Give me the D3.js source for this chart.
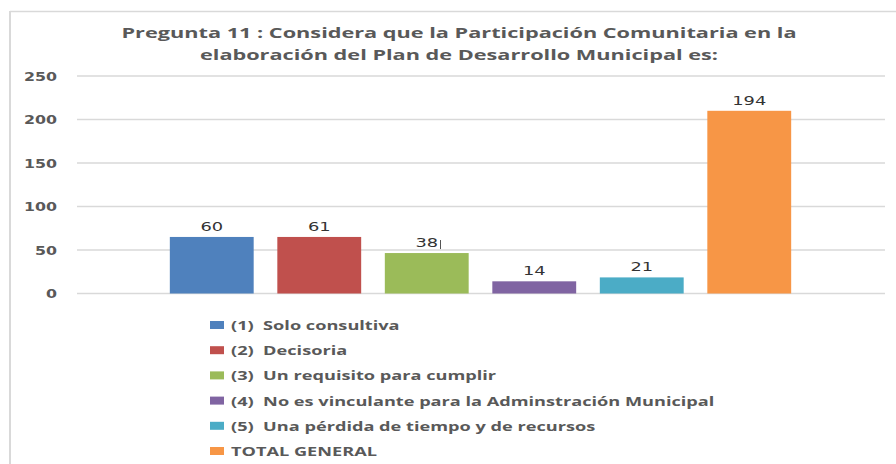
<!DOCTYPE html>
<html>
<head>
<meta charset="utf-8">
<script src="https://cdn.jsdelivr.net/npm/d3@7"></script>
<style>
  html, body { margin: 0; padding: 0; background: #fff; }
  svg { display: block; }
</style>
</head>
<body>
<div id="chart"></div>
<script>
// Pregunta 11 - bar chart

const categories = [
    '(1)  Solo consultiva',
    '(2)  Decisoria',
    '(3)  Un requisito para cumplir',
    '(4)  No es vinculante para la Adminstración Municipal',
    '(5)  Una pérdida de tiempo y de recursos',
    'TOTAL GENERAL'
];
// bar heights as drawn against the axis
const values = [65, 65, 46.5, 14, 18.5, 210];
// numbers printed above the bars
const labels = ['60', '61', '38', '14', '21', '194'];
const yTicks = [0, 50, 100, 150, 200, 250];
const titleLines = [
    'Pregunta 11 : Considera que la Participación Comunitaria en la',
    'elaboración del Plan de Desarrollo Municipal es:'
];

const colors = ['#4f81bd', '#c0504d', '#9bbb59', '#8064a2', '#4bacc6', '#f79646'];

const width = 896, height = 464;

const svg = d3.select('#chart').append('svg')
    .attr('width', width)
    .attr('height', height);

// the source picture is stretched sideways, so widen text to a measured width
function stretchTo(sel, refNode, target) {
    const k = target / refNode.getComputedTextLength();
    sel.each(function() {
        const w = this.getComputedTextLength();
        d3.select(this)
            .attr('textLength', w * k)
            .attr('lengthAdjust', 'spacingAndGlyphs');
    });
}

// frame
svg.append('line')
    .attr('x1', 10).attr('x2', width)
    .attr('y1', 11.5).attr('y2', 11.5)
    .attr('stroke', '#d9d9d9').attr('stroke-width', 1.5);
svg.append('line')
    .attr('x1', 10).attr('x2', 10)
    .attr('y1', 11).attr('y2', height)
    .attr('stroke', '#d9d9d9').attr('stroke-width', 2);

// scales
const x = d3.scaleBand()
    .domain(categories)
    .range([158, 803])
    .paddingInner(0.22)
    .paddingOuter(0.11);

const y = d3.scaleLinear()
    .domain([0, 250])
    .range([293.5, 76]);

// gridlines
svg.append('g')
    .selectAll('line')
    .data(yTicks)
    .enter()
    .append('line')
    .attr('x1', 77).attr('x2', 885)
    .attr('y1', d => y(d)).attr('y2', d => y(d))
    .attr('stroke', '#d9d9d9')
    .attr('stroke-width', 1.5);

// y axis labels
const yAxis = svg.append('g')
    .attr('transform', 'translate(57,0)')
    .call(d3.axisLeft(y).tickValues(yTicks).tickSize(0).tickPadding(0));
yAxis.select('.domain').remove();
yAxis.selectAll('text')
    .attr('dy', '0.36em')
    .style('font-family', '"DejaVu Sans", sans-serif')
    .style('font-weight', 'bold')
    .style('font-size', '11.5px')
    .style('fill', '#595959');
const tickText = yAxis.selectAll('text');
stretchTo(tickText, tickText.filter(d => d === 250).node(), 33);

// bars
svg.append('g')
    .selectAll('rect')
    .data(values)
    .enter()
    .append('rect')
    .attr('x', (d, i) => x(categories[i]))
    .attr('y', d => y(d))
    .attr('width', x.bandwidth())
    .attr('height', d => y(0) - y(d))
    .attr('fill', (d, i) => colors[i]);

// value labels
const valText = svg.append('g')
    .selectAll('text')
    .data(values)
    .enter()
    .append('text')
    .attr('x', (d, i) => x(categories[i]) + x.bandwidth() / 2)
    .attr('y', d => y(d) - 6)
    .attr('text-anchor', 'middle')
    .style('font-family', '"DejaVu Sans", sans-serif')
    .style('font-size', '12.5px')
    .style('fill', '#333')
    .text((d, i) => labels[i]);
stretchTo(valText, valText.nodes()[5], 34);

// little text cursor left after "38" in the source
svg.append('line')
    .attr('x1', 440.5).attr('x2', 440.5)
    .attr('y1', y(values[2]) - 13).attr('y2', y(values[2]) - 4)
    .attr('stroke', '#555').attr('stroke-width', 1);

// title
const title = svg.append('g')
    .selectAll('text')
    .data(titleLines)
    .enter()
    .append('text')
    .attr('x', 459)
    .attr('y', (d, i) => 38 + i * 22)
    .attr('text-anchor', 'middle')
    .style('font-family', '"Open Sans", sans-serif')
    .style('font-weight', 'bold')
    .style('font-size', '14px')
    .style('fill', '#595959')
    .text(d => d);
stretchTo(title, title.nodes()[0], 675);

// legend
const legend = svg.append('g')
    .attr('transform', 'translate(210,0)');

legend.selectAll('rect')
    .data(categories)
    .enter()
    .append('rect')
    .attr('x', 0)
    .attr('y', (d, i) => 321 + i * 25.2)
    .attr('width', 14)
    .attr('height', 8)
    .attr('fill', (d, i) => colors[i]);

const legText = legend.selectAll('text')
    .data(categories)
    .enter()
    .append('text')
    .attr('x', 21)
    .attr('y', (d, i) => 330 + i * 25.2)
    .style('font-family', '"Open Sans", sans-serif')
    .style('font-weight', 'bold')
    .style('font-size', '12px')
    .style('fill', '#595959')
    .style('white-space', 'pre')
    .text(d => d);
stretchTo(legText, legText.nodes()[5], 146);
</script>
</body>
</html>
